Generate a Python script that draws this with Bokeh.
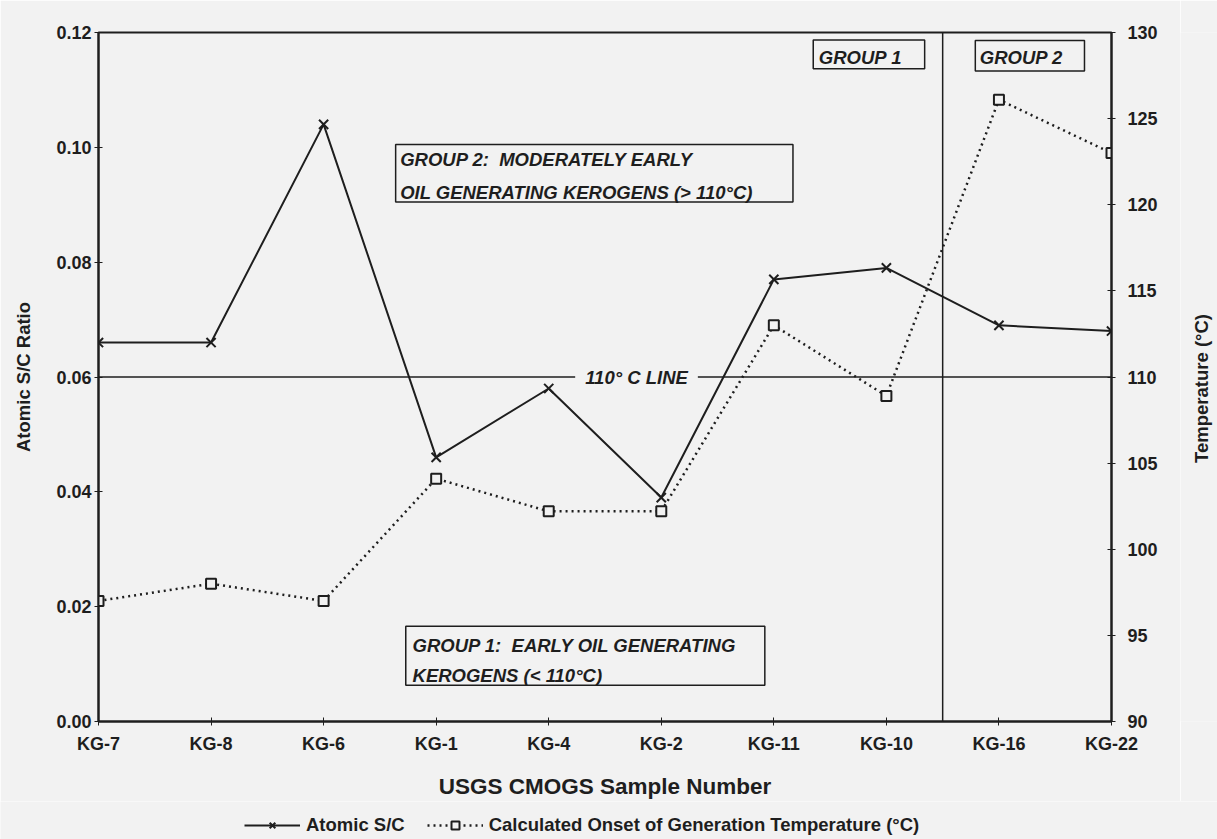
import math
from bokeh.plotting import figure
from bokeh.layouts import column, row
from bokeh.models import (Range1d, LinearAxis, FixedTicker, NumeralTickFormatter, Span, Label,
                          BoxAnnotation, Legend, LegendItem, ColumnDataSource)
from bokeh.embed import file_html
from bokeh.resources import INLINE

# ---- data ----
samples = ["KG-7", "KG-8", "KG-6", "KG-1", "KG-4", "KG-2", "KG-11", "KG-10", "KG-16", "KG-22"]
atomic_sc = [0.066, 0.066, 0.104, 0.046, 0.058, 0.039, 0.077, 0.079, 0.069, 0.068]
onset_temp = [97.0, 98.0, 97.0, 104.1, 102.2, 102.2, 113.0, 108.9, 126.1, 123.0]

sc_ticks = [0.00, 0.02, 0.04, 0.06, 0.08, 0.10, 0.12]
temp_ticks = [90, 95, 100, 105, 110, 115, 120, 125, 130]
line_temp = 110           # the 110 deg C line
group_split = 7.5         # boundary between group 1 and group 2 samples

NB = "\u00a0"
group2_text = ["GROUP 2:" + NB + " MODERATELY EARLY", "OIL GENERATING KEROGENS (> 110\u00b0C)"]
group1_text = ["GROUP 1:" + NB + " EARLY OIL GENERATING", "KEROGENS (< 110\u00b0C)"]
legend_labels = ["Atomic S/C", "Calculated Onset of Generation Temperature (\u00b0C)"]
right_title = "Temperature (\u00b0C)"

BG = "#f2f2f2"
INK = "#1e1e1e"
FONT = "Liberation Sans"
NOTE_SIZE = "18.5px"

W_MAIN, W_STRIP, H_MAIN, H_LEG = 1180, 37, 801, 38

src = ColumnDataSource(dict(x=list(range(len(samples))), sc=atomic_sc, t=onset_temp))

p = figure(width=W_MAIN, height=H_MAIN, output_backend="svg", toolbar_location=None,
           x_range=Range1d(0, len(samples) - 1), y_range=Range1d(0, 0.12),
           min_border_left=98, min_border_right=W_MAIN - 1111, min_border_top=32,
           min_border_bottom=80, background_fill_color=BG, border_fill_color=BG)
p.extra_y_ranges = {"temp": Range1d(90, 130)}
p.xgrid.visible = False
p.ygrid.visible = False
p.outline_line_color = INK
p.outline_line_width = 2

def style_axis(ax, size="18px"):
    ax.axis_line_color = INK
    ax.axis_line_width = 2
    ax.major_tick_line_color = INK
    ax.major_tick_line_width = 1
    ax.major_tick_in = 4
    ax.major_tick_out = 4
    ax.minor_tick_line_color = None
    ax.major_label_text_font = FONT
    ax.major_label_text_font_style = "bold"
    ax.major_label_text_font_size = size
    ax.major_label_text_color = INK
    ax.axis_label_text_font = FONT
    ax.axis_label_text_font_style = "bold"
    ax.axis_label_text_color = INK

xa = p.xaxis[0]
style_axis(xa)
xa.ticker = FixedTicker(ticks=list(range(len(samples))))
xa.major_label_overrides = {i: s for i, s in enumerate(samples)}
xa.axis_label = "USGS CMOGS Sample Number"
xa.axis_label_text_font_size = "22.5px"
xa.major_label_standoff = 8
xa.axis_label_standoff = 17

ya = p.yaxis[0]
style_axis(ya)
ya.ticker = FixedTicker(ticks=sc_ticks)
ya.formatter = NumeralTickFormatter(format="0.00")
ya.axis_label = "Atomic S/C Ratio"
ya.axis_label_text_font_size = "18.5px"
ya.major_label_standoff = 3
ya.axis_label_standoff = 19

ra = LinearAxis(y_range_name="temp", ticker=FixedTicker(ticks=temp_ticks))
style_axis(ra)
ra.major_label_standoff = 12
p.add_layout(ra, "right")

# reference lines
p.add_layout(Span(location=line_temp, dimension="width", y_range_name="temp",
                  line_color=INK, line_width=1.3))
p.add_layout(Span(location=group_split, dimension="height", line_color=INK, line_width=1.5))
p.add_layout(Label(x=4.78, y=line_temp, y_range_name="temp", text="110\u00b0 C LINE",
                   text_font=FONT, text_font_style="bold italic", text_font_size=NOTE_SIZE,
                   text_color=INK, text_align="center", text_baseline="middle",
                   background_fill_color=BG, padding=10))

# series
def draw_series(fig):
    a = fig.line("x", "sc", source=src, line_color=INK, line_width=2)
    b = fig.scatter("x", "sc", source=src, marker="x", size=13, line_color=INK, line_width=2)
    c = fig.line("x", "t", source=src, y_range_name="temp", line_color=INK,
                 line_width=2.5, line_dash="2 4")
    d = fig.scatter("x", "t", source=src, y_range_name="temp", marker="square", size=10,
                    fill_color=BG, line_color=INK, line_width=2)
    return a, b, c, d

draw_series(p)

# annotation boxes
def box(left, right, bottom, top):
    p.add_layout(BoxAnnotation(left=left, right=right, bottom=bottom, top=top,
                               fill_color=None, fill_alpha=0, line_color=INK, line_alpha=1,
                               line_width=1.5, level="overlay"))

def txt(x, y, s):
    p.add_layout(Label(x=x, y=y, text=s, text_font=FONT, text_font_style="bold italic",
                       text_font_size=NOTE_SIZE, text_color=INK, text_baseline="alphabetic"))

box(2.64, 6.17, 0.0905, 0.1005)
txt(2.68, 0.0978, group2_text[0])
txt(2.68, 0.0922, group2_text[1])

box(2.73, 5.92, 0.0063, 0.0166)
txt(2.79, 0.0133, group1_text[0])
txt(2.79, 0.0080, group1_text[1])

box(6.35, 7.34, 0.1137, 0.1187)
txt(6.40, 0.1156, "GROUP 1")
box(7.79, 8.76, 0.1133, 0.1186)
txt(7.83, 0.1156, "GROUP 2")

# right-hand title strip (text reads bottom to top); its frame lines up with the plot's
strip = figure(width=W_STRIP, height=H_MAIN, output_backend="svg", toolbar_location=None,
               x_range=Range1d(0, W_STRIP), y_range=p.y_range,
               x_axis_type=None, y_axis_type=None, min_border=0,
               background_fill_color=BG, border_fill_color=BG, outline_line_color=None)
strip.xgrid.visible = False
strip.ygrid.visible = False
strip.add_layout(Label(x=21, y=0.058, text=right_title, angle=math.pi / 2,
                       text_font=FONT, text_font_style="bold", text_font_size="18.5px",
                       text_color=INK, text_align="center", text_baseline="middle"))

# legend strip below the chart (series drawn out of view, only the legend shows)
leg = figure(width=W_MAIN + W_STRIP, height=H_LEG, output_backend="svg", toolbar_location=None,
             x_range=Range1d(100, 101), y_range=Range1d(100, 101),
             x_axis_type=None, y_axis_type=None, min_border=0,
             background_fill_color=BG, border_fill_color=BG, outline_line_color=None)
leg.extra_y_ranges = {"temp": Range1d(1000, 1001)}
leg.xgrid.visible = False
leg.ygrid.visible = False
la, lb, lc, ld = draw_series(leg)
legend = Legend(items=[LegendItem(label=legend_labels[0], renderers=[la, lb]),
                       LegendItem(label=legend_labels[1], renderers=[lc, ld])],
                orientation="horizontal", location=(244, 3),
                border_line_color=None, background_fill_alpha=0,
                label_text_font=FONT, label_text_font_style="bold", label_text_font_size="18.5px",
                label_text_color=INK, glyph_width=56, label_standoff=6, spacing=22,
                margin=0, padding=4)
leg.add_layout(legend)

layout = column(row(p, strip, spacing=0), leg, spacing=0)
open("out.html", "w").write(file_html(layout, INLINE))
